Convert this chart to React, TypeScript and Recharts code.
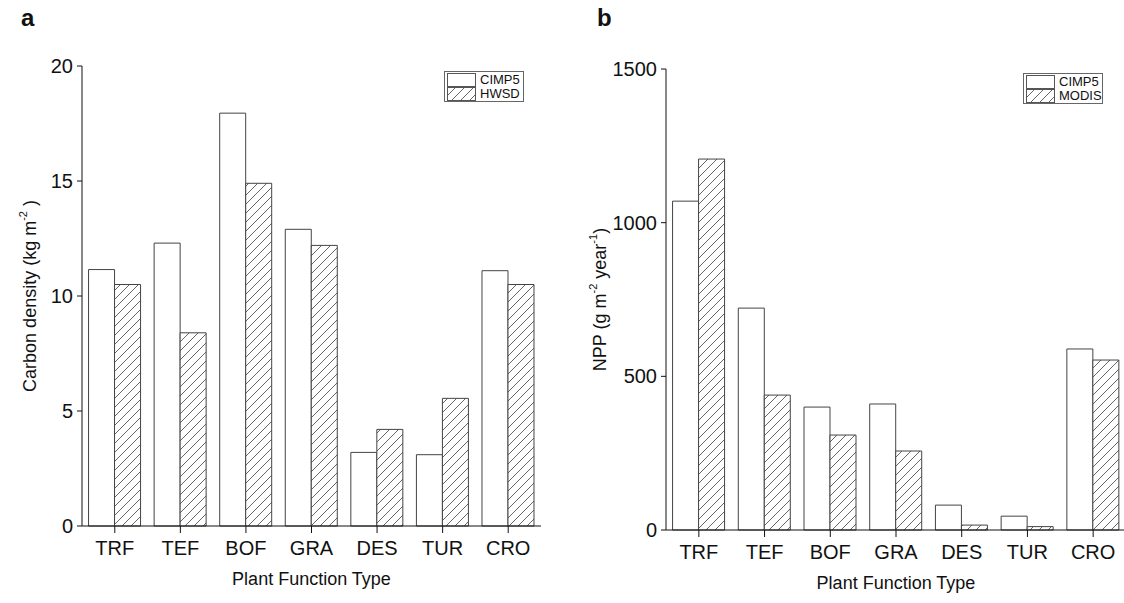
import React from 'react';
import { BarChart, Bar, XAxis, YAxis, Legend } from 'recharts';

const categories = ['TRF', 'TEF', 'BOF', 'GRA', 'DES', 'TUR', 'CRO'];
const carbonCimp5 = [11.15, 12.3, 17.95, 12.9, 3.2, 3.1, 11.1];
const carbonHwsd = [10.5, 8.4, 14.9, 12.2, 4.2, 5.55, 10.5];
const nppCimp5 = [1070, 722, 400, 410, 81, 45, 589];
const nppModis = [1207, 439, 309, 257, 16, 11, 553];
const carbonTicks = [0, 5, 10, 15, 20];
const nppTicks = [0, 500, 1000, 1500];

const FONT = '"Liberation Sans", Arial, sans-serif';
const INK = '#111';
const BAR_STROKE = '#444';

const carbonData = categories.map((c, i) => ({ cat: c, a: carbonCimp5[i], b: carbonHwsd[i] }));
const nppData = categories.map((c, i) => ({ cat: c, a: nppCimp5[i], b: nppModis[i] }));

const HatchDef = ({ id }: { id: string }) => (
  <defs>
    <pattern id={id} patternUnits="userSpaceOnUse" width="9" height="9">
      <rect width="9" height="9" fill="#fff" />
      <path d="M-2,2 L2,-2 M0,9 L9,0 M7,11 L11,7" stroke="#555" strokeWidth="0.9" />
    </pattern>
  </defs>
);

const LegendBox = ({ names, pid }: { names: string[]; pid: string }) => (
  <div style={{ border: '1px solid #666', background: '#fff', width: 80, height: 31, boxSizing: 'border-box', fontFamily: FONT, fontSize: 13, color: INK, lineHeight: '14px', padding: '1px 0 0 2px' }}>
    {names.map((n, i) => (
      <div key={n} style={{ display: 'flex', alignItems: 'center', height: 14 }}>
        <svg width="30" height="14" style={{ display: 'block' }}>
          <HatchDef id={pid} />
          <rect x="0.5" y="0.5" width="28" height="13" fill={i === 0 ? '#fff' : `url(#${pid})`} stroke="#555" strokeWidth="1" />
        </svg>
        <span style={{ marginLeft: 3 }}>{n}</span>
      </div>
    ))}
  </div>
);

const yLabel = (main: string, parts: { t: string; sup?: boolean }[], dx: number) => (props: any) => {
  const vb = props.viewBox || { x: 0, y: 0, width: 0, height: 0 };
  const cx = vb.x + dx;
  const cy = vb.y + vb.height / 2;
  return (
    <text transform={`rotate(-90, ${cx}, ${cy})`} x={cx} y={cy} textAnchor="middle" dominantBaseline="central" fontFamily={FONT} fontSize={18} fill={INK}>
      <tspan>{main}</tspan>
      {parts.map((p, i) => (
        <tspan key={i} dy={p.sup ? -7 : (i > 0 && parts[i - 1].sup ? 7 : 0)} fontSize={p.sup ? 11 : 18}>{p.t}</tspan>
      ))}
    </text>
  );
};

const xLabel = (text: string) => (props: any) => {
  const vb = props.viewBox || { x: 0, y: 0, width: 0, height: 0 };
  return (
    <text x={vb.x + vb.width / 2} y={vb.y + 59} textAnchor="middle" fontFamily={FONT} fontSize={18} fill={INK}>{text}</text>
  );
};

const tickStyle = { fontFamily: FONT, fontSize: 20, fill: INK };

export default function App() {
  return (
    <div style={{ position: 'absolute', left: 0, top: 0, width: 1124, height: 603, overflow: 'hidden', background: '#fff' }}>
      <div style={{ position: 'absolute', left: 21, top: 4, fontFamily: FONT, fontWeight: 'bold', fontSize: 24, color: INK }}>a</div>
      <div style={{ position: 'absolute', left: 597, top: 4, fontFamily: FONT, fontWeight: 'bold', fontSize: 24, color: INK }}>b</div>

      <div style={{ position: 'absolute', left: 0, top: 0 }}>
        <BarChart width={560} height={603} data={carbonData} margin={{ top: 66, right: 19, bottom: 47, left: 22 }} barCategoryGap="10%" barGap={0}>
          <HatchDef id="hatchA" />
          <XAxis dataKey="cat" height={30} interval={0} tickSize={7} tickMargin={8} tick={tickStyle} stroke={INK} axisLine={{ stroke: INK }} tickLine={{ stroke: INK }} label={{ content: xLabel('Plant Function Type') }} />
          <XAxis xAxisId="top" dataKey="cat" orientation="top" height={0} tick={false} tickLine={false} axisLine={{ stroke: INK }} />
          <YAxis domain={[0, 20]} ticks={carbonTicks} width={60} tickSize={5} tickMargin={4} tick={tickStyle} axisLine={{ stroke: INK }} tickLine={{ stroke: INK }} label={{ content: yLabel('Carbon density (kg m', [{ t: '-2', sup: true }, { t: ' )' }], 8) }} />
          <YAxis yAxisId="r" orientation="right" domain={[0, 20]} width={0} tick={false} tickLine={false} axisLine={{ stroke: INK }} />
          <Legend layout="vertical" align="center" verticalAlign="middle" wrapperStyle={{ position: 'absolute', top: 71, left: 444, width: 82, height: 32, margin: 0 }} content={() => <LegendBox names={['CIMP5', 'HWSD']} pid="hatchLA" />} />
          <Bar dataKey="a" name="CIMP5" fill="#fff" stroke={BAR_STROKE} strokeWidth={1} isAnimationActive={false} />
          <Bar dataKey="b" name="HWSD" fill="url(#hatchA)" stroke={BAR_STROKE} strokeWidth={1} isAnimationActive={false} />
        </BarChart>
      </div>

      <div style={{ position: 'absolute', left: 570, top: 0 }}>
        <BarChart width={560} height={603} data={nppData} margin={{ top: 69, right: 4, bottom: 43, left: 26 }} barCategoryGap="10%" barGap={0}>
          <HatchDef id="hatchB" />
          <XAxis dataKey="cat" height={30} interval={0} tickSize={7} tickMargin={8} tick={tickStyle} axisLine={{ stroke: INK }} tickLine={{ stroke: INK }} label={{ content: xLabel('Plant Function Type') }} />
          <XAxis xAxisId="top" dataKey="cat" orientation="top" height={0} tick={false} tickLine={false} axisLine={{ stroke: INK }} />
          <YAxis domain={[0, 1500]} ticks={nppTicks} width={70} tickSize={5} tickMargin={4} tick={tickStyle} axisLine={{ stroke: INK }} tickLine={{ stroke: INK }} label={{ content: yLabel('NPP (g m', [{ t: '-2', sup: true }, { t: ' year' }, { t: '-1', sup: true }, { t: ')' }], 4) }} />
          <Legend layout="vertical" align="center" verticalAlign="middle" wrapperStyle={{ position: 'absolute', top: 73, left: 453, width: 82, height: 32, margin: 0 }} content={() => <LegendBox names={['CIMP5', 'MODIS']} pid="hatchLB" />} />
          <Bar dataKey="a" name="CIMP5" fill="#fff" stroke={BAR_STROKE} strokeWidth={1} isAnimationActive={false} />
          <Bar dataKey="b" name="MODIS" fill="url(#hatchB)" stroke={BAR_STROKE} strokeWidth={1} isAnimationActive={false} />
        </BarChart>
      </div>
    </div>
  );
}
